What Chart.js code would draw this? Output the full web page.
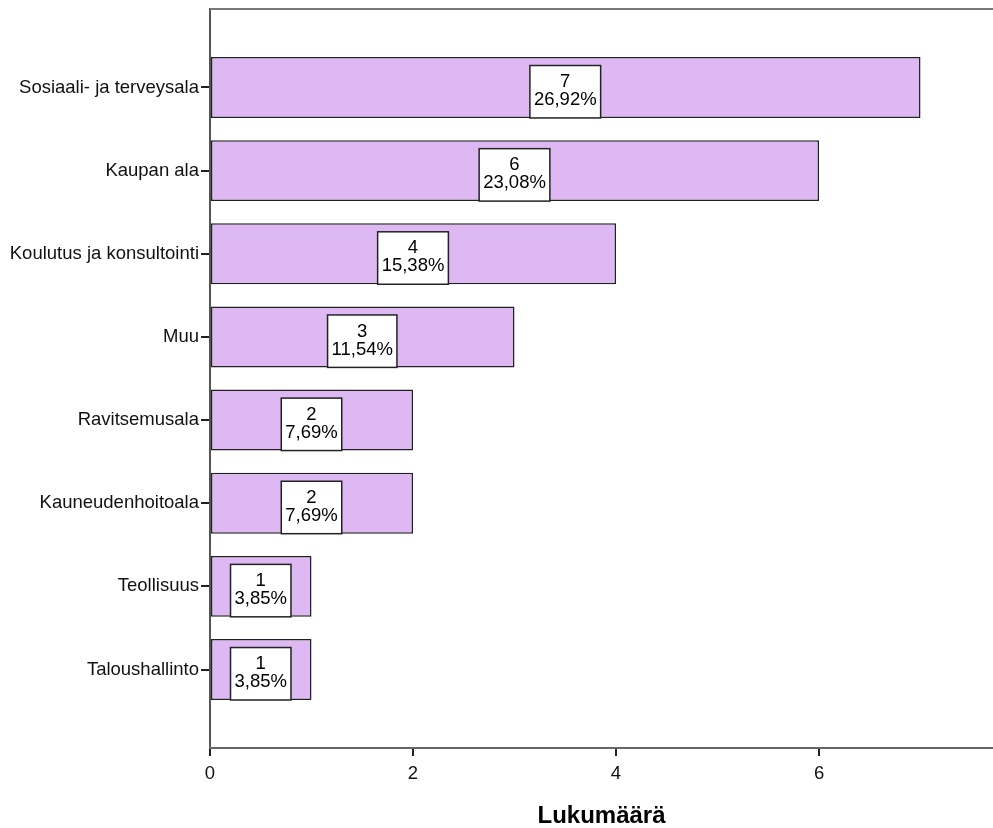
<!DOCTYPE html>
<html>
<head>
<meta charset="utf-8">
<script src="https://cdn.jsdelivr.net/npm/chart.js@4/dist/chart.umd.min.js"></script>
<style>
html,body{margin:0;padding:0;background:#fff;}
#wrap{width:993px;height:828px;position:relative;}
</style>
</head>
<body>
<div id="wrap"><canvas id="c"></canvas></div>
<script>
const categories = ["Sosiaali- ja terveysala","Kaupan ala","Koulutus ja konsultointi","Muu","Ravitsemusala","Kauneudenhoitoala","Teollisuus","Taloushallinto"];
const counts = [7,6,4,3,2,2,1,1];
const percents = ["26,92%","23,08%","15,38%","11,54%","7,69%","7,69%","3,85%","3,85%"];
const xTicks = [0,2,4,6];
const axisTitle = "Lukumäärä";

const FONT = "'Liberation Sans', Arial, sans-serif";

const points = counts.map((v,i)=>({x:v,y:i}));

const labelPlugin = {
  id:'boxLabels',
  afterDatasetsDraw(chart){
    const ctx = chart.ctx;
    const meta = chart.getDatasetMeta(0);
    const xs = chart.scales.x;
    ctx.save();
    ctx.font = "18.5px " + FONT;
    meta.data.forEach((bar,i)=>{
      const p = bar.getProps(['x','y','base','height'],true);
      const cx = xs.getPixelForValue(counts[i]/2);
      const barBottom = p.y + p.height/2;
      const barTop = p.y - p.height/2;
      const l1 = String(counts[i]), l2 = percents[i];
      const w = Math.max(ctx.measureText(l1).width, ctx.measureText(l2).width) + 8;
      const top = barTop + 8.5;
      const h = barBottom - top;
      ctx.fillStyle = '#fff';
      ctx.fillRect(cx - w/2, top, w, h);
      ctx.strokeStyle = '#222';
      ctx.lineWidth = 1.5;
      ctx.strokeRect(cx - w/2, top, w, h);
      ctx.fillStyle = '#000';
      ctx.textAlign = 'center';
      ctx.textBaseline = 'middle';
      ctx.fillText(l1, cx, top + 16.5);
      ctx.fillText(l2, cx, top + 34.5);
    });
    ctx.restore();
  }
};

const framePlugin = {
  id:'frame',
  afterDraw(chart){
    const {ctx, chartArea} = chart;
    ctx.save();
    ctx.strokeStyle = '#777';
    ctx.lineWidth = 2;
    ctx.beginPath();
    ctx.moveTo(chartArea.left, chartArea.top);
    ctx.lineTo(chart.width, chartArea.top);
    ctx.stroke();
    ctx.restore();
  }
};

new Chart(document.getElementById('c'), {
  type:'bar',
  data:{
    datasets:[{
      data: points,
      backgroundColor:'#DDB8F2',
      borderColor:'#222',
      borderWidth:1.5,
      borderSkipped:false,
      barPercentage:0.733,
      categoryPercentage:1
    }]
  },
  options:{
    indexAxis:'y',
    responsive:true,
    maintainAspectRatio:false,
    animation:false,
    layout:{padding:{top:9,right:0,left:0,bottom:0}},
    plugins:{legend:{display:false},tooltip:{enabled:false}},
    scales:{
      y:{
        type:'linear',
        reverse:true,
        offset:false,
        min:-0.944,
        max:7.944,
        afterBuildTicks(s){ s.ticks = categories.map((_,i)=>({value:i})); },
        afterFit(s){ s.width = 210; s.paddingTop = 0; s.paddingBottom = 0; },
        ticks:{
          autoSkip:false,
          padding:2,
          color:'#111',
          font:{family:FONT,size:18.5},
          callback:(v)=>categories[v] ?? ''
        },
        grid:{drawOnChartArea:false,offset:false,tickLength:9,color:'#222',lineWidth:2},
        border:{color:'#555',width:2}
      },
      x:{
        type:'linear',
        min:0,
        max:7.714,
        afterBuildTicks(s){ s.ticks = xTicks.map(v=>({value:v})); },
        afterFit(s){ s.height = 80; },
        ticks:{
          padding:7,
          color:'#111',
          font:{family:FONT,size:18.5},
          callback:(v)=>String(v)
        },
        grid:{drawOnChartArea:false,tickLength:8,color:'#222',lineWidth:2},
        border:{color:'#666',width:2},
        title:{
          display:true,
          text:axisTitle,
          color:'#000',
          font:{family:FONT,size:24,weight:'bold',lineHeight:1},
          padding:{top:0,bottom:0}
        }
      }
    }
  },
  plugins:[labelPlugin, framePlugin]
});
</script>
</body>
</html>
